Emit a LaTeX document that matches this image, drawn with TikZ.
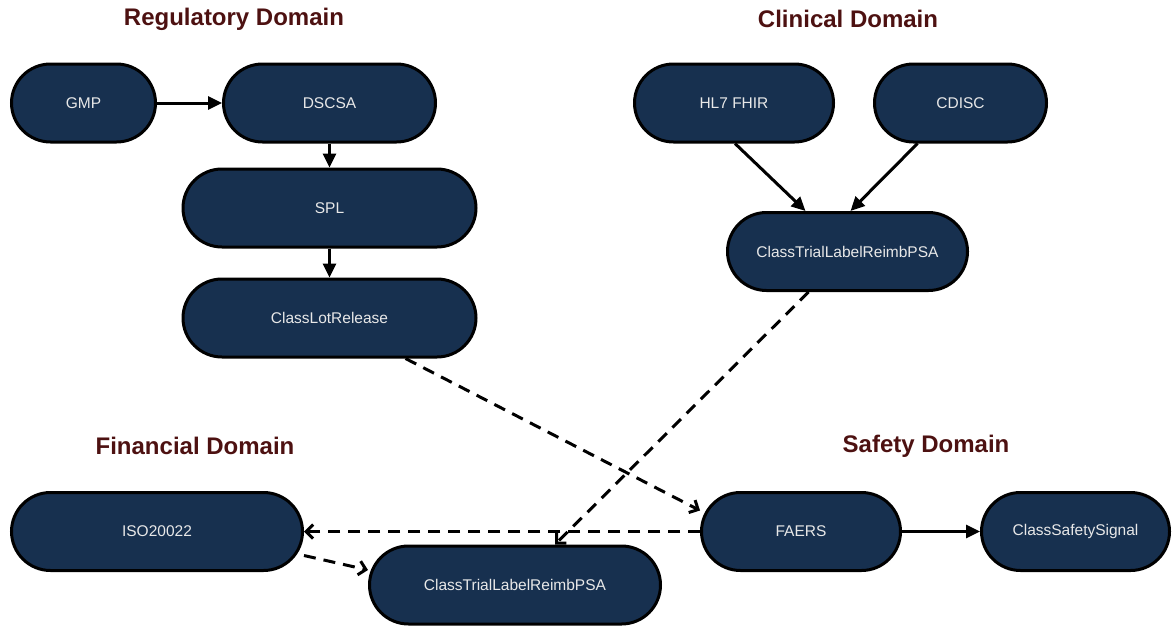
\documentclass[tikz,border=0pt]{standalone}
\usepackage{fontspec}
\setmainfont{Liberation Sans}
\usetikzlibrary{arrows.meta, positioning}

\definecolor{navy}{RGB}{23,48,79}
\definecolor{labelgray}{RGB}{232,232,232}
\definecolor{titlered}{RGB}{77,17,17}

\begin{document}
\begin{tikzpicture}[x=1pt, y=-1pt,
		block/.style={draw=black, line width=3pt, fill=navy, text=labelgray, rounded corners=39pt, minimum height=78pt, inner sep=0pt, font=\fontsize{15.5}{18}\selectfont},
		domaintitle/.style={text=titlered, font=\fontsize{24}{28}\selectfont\bfseries},
		link/.style={line width=3pt, -{Triangle[length=14pt, width=13pt]}},
		crosslink/.style={line width=3pt, dash pattern=on 12pt off 8pt, -{Straight Barb[length=7pt, width=14pt]}}]
				\useasboundingbox (0,0) rectangle (1172,627);
				
				% domain titles
				\node [domaintitle] (regtitle) at (234,19) {Regulatory Domain};
				\node [domaintitle] (clintitle) at (848,19) {Clinical Domain};
				\node [domaintitle] (fintitle) at (195,446) {Financial Domain};
				\node [domaintitle] (saftitle) at (926,446) {Safety Domain};
				
				% regulatory
				\node [block, minimum width=144pt] (gmp) at (83.5,103) {GMP};
				\node [block, minimum width=212pt, right=65pt of gmp] (dscsa) {DSCSA};
				\node [block, minimum width=293pt, below=24pt of dscsa] (spl) {SPL};
				\node [block, minimum width=293pt, below=29pt of spl] (lot) {ClassLotRelease};
				
				% clinical
				\node [block, minimum width=199pt] (fhir) at (734,103) {HL7 FHIR};
				\node [block, minimum width=172pt, right=38pt of fhir] (cdisc) {CDISC};
				\node [block, minimum width=240pt] (trialc) at (847.5,251.5) {ClassTrialLabelReimbPSA};
				
				% financial
				\node [block, minimum width=291pt] (iso) at (157,531.5) {ISO20022};
				\node [block, minimum width=291pt] (trialf) at (515,585) {ClassTrialLabelReimbPSA};
				
				% safety
				\node [block, minimum width=199pt] (faers) at (801,531.5) {FAERS};
				\node [block, minimum width=188pt, right=78pt of faers] (signal) {ClassSafetySignal};
				
				\draw [link] (gmp) -- (dscsa);
				\draw [link] (dscsa) -- (spl);
				\draw [link] (spl) -- (lot);
				\draw [link] ([xshift=1pt]fhir.south) -- ([xshift=-42pt]trialc.north);
				\draw [link] ([xshift=-43pt]cdisc.south) -- ([xshift=3pt]trialc.north);
				\draw [link] (faers) -- (signal);
				
				\draw [crosslink] ([xshift=76pt]lot.south) -- ([yshift=21pt]faers.west);
				\draw [crosslink] ([xshift=-39pt]trialc.south) -- ([xshift=40pt]trialf.north);
				\draw [crosslink] (faers.west) -- (iso.east);
				\draw [crosslink] ([yshift=-24pt]iso.east) -- ([yshift=15pt]trialf.west);
			\end{tikzpicture}
\end{document}
